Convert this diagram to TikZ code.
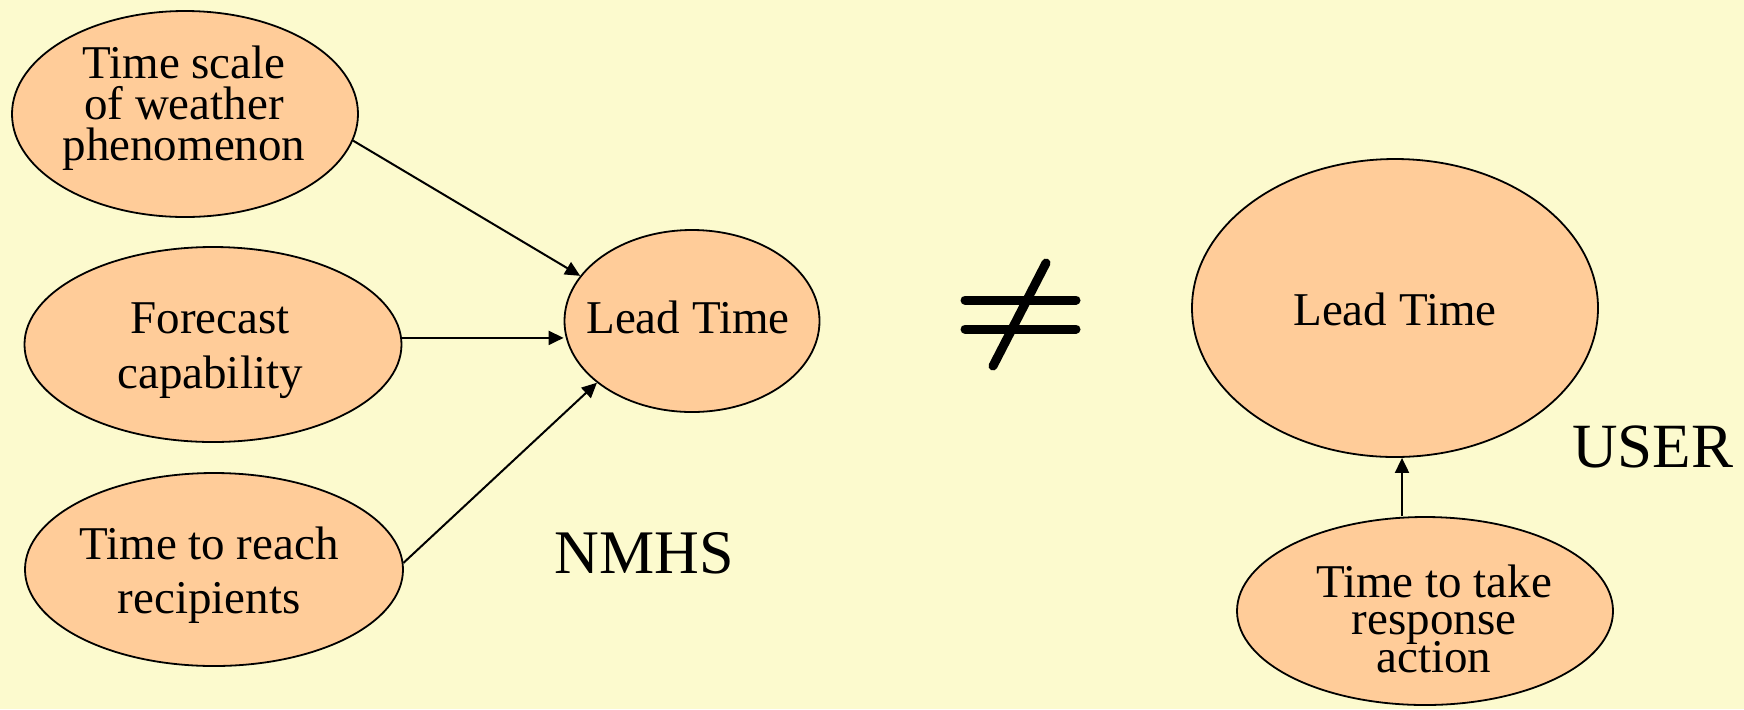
\documentclass[tikz,border=0pt]{standalone}
\usepackage{fontspec}
\setmainfont{Liberation Serif}
\usetikzlibrary{arrows.meta,shapes.geometric,calc}

\definecolor{paper}{HTML}{FCFACE}
\definecolor{peach}{HTML}{FFCC99}

\newcommand{\txtfont}[1]{\fontsize{23.5}{#1}\selectfont\lineskiplimit=-100pt\relax}

\tikzset{
  bubble/.style={ellipse, draw=black, line width=0.9pt, fill=peach, inner sep=0pt},
  caption/.style={inner sep=0pt, align=center, text=black},
  arr/.style={line width=1pt, -{Triangle[length=7.5pt,width=7pt]}},
  bigtag/.style={inner sep=0pt, anchor=base, text=black},
  neqbar/.style={line width=4.5pt, line cap=round}
}

\begin{document}
\begin{tikzpicture}[x=0.5pt, y=-0.5pt]
  % canvas
  \useasboundingbox (0,0) rectangle (1744,709);
  \fill[paper] (0,0) rectangle (1744,709);

  % NMHS side: three influences feeding the lead time
  \node[bubble, minimum width=173pt, minimum height=103pt] (e1) at (185,114) {};
  \node[bubble, minimum width=188.5pt, minimum height=97.5pt] (e2) at (213,344.5) {};
  \node[bubble, minimum width=189pt, minimum height=96.5pt] (e3) at (214,569.5) {};
  \node[bubble, minimum width=127.5pt, minimum height=91pt] (e4) at (692,321) {};

  \node[caption, font=\txtfont{20.5pt}] (t1) at (184,108.2) {Time scale\\of weather\\phenomenon};
  \node[caption, font=\txtfont{27.5pt}] (t2) at (210,350.2) {Forecast\\capability};
  \node[caption, font=\txtfont{27pt}] (t3) at (209,575.2) {Time to reach\\recipients};
  \node[caption, font=\txtfont{27pt}] (t4) at (688,317.1) {Lead Time};

  \draw[arr] (e1.-9) -- (e4.158);
  \draw[arr] (e2.2) -- (e2.2 -| e4.west);
  \draw[arr] (e3.2) -- (e4.213);

  \node[bigtag, font=\fontsize{31}{36}\selectfont] (nmhs) at (644,573) {NMHS};

  % not-equal sign
  \coordinate (b1l) at (965,300);
  \coordinate (b1r) at (1076,300);
  \coordinate (b2l) at (965,329);
  \coordinate (b2r) at (1076,329);
  \coordinate (st) at (1046,263);
  \coordinate (sb) at (993,366);
  \draw[neqbar] (b1l) -- (b1r);
  \draw[neqbar] (b2l) -- (b2r);
  \draw[neqbar] (st) -- (sb);

  % USER side
  \node[bubble, minimum width=203pt, minimum height=149pt] (e5) at (1395,308) {};
  \node[bubble, minimum width=188pt, minimum height=94pt] (e6) at (1425,611) {};

  \node[caption, font=\txtfont{27pt}] (t5) at (1395,309.1) {Lead Time};
  \node[caption, font=\txtfont{18.75pt}] (t6) at (1434,618.6) {Time to take\\response\\action};

  \draw[arr] ([xshift=3.5pt]e6.north -| e5.south) -- ([xshift=3.5pt]e5.south);

  \node[bigtag, font=\fontsize{31.5}{36}\selectfont] (user) at (1652.5,467) {USER};
\end{tikzpicture}
\end{document}
